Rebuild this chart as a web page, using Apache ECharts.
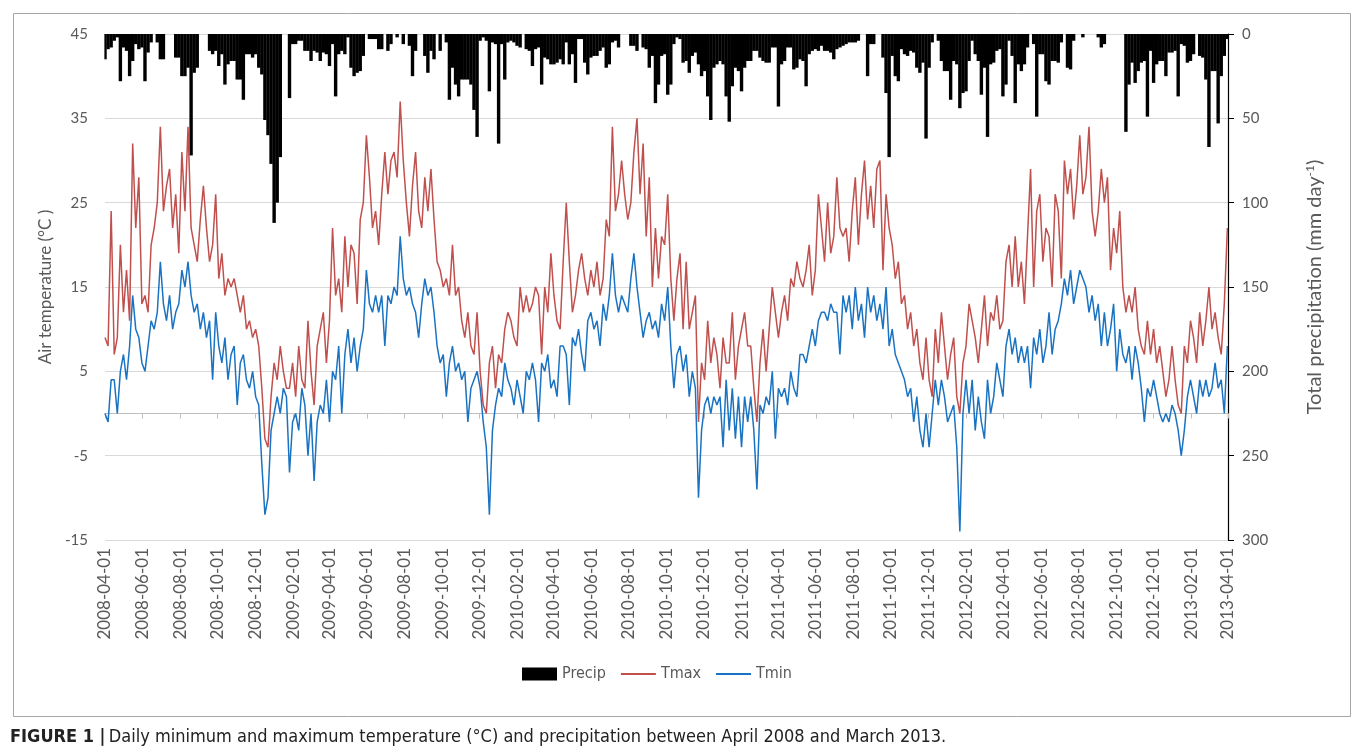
<!DOCTYPE html>
<html>
<head>
<meta charset="utf-8">
<script src="https://cdn.jsdelivr.net/npm/echarts@6/dist/echarts.min.js"></script>
<style>
  html, body { margin: 0; padding: 0; background: #fff; }
  #chart { width: 1358px; height: 750px; }
</style>
</head>
<body>
<div id="chart"></div>
<script>
// ---- data (one value every 5 days starting 2008-04-01) ----
const startDate = '2008-04-01';
const endDate = '2013-04-01';
const stepDays = 5;

const tmax = [
  9, 8, 24, 7, 9, 20, 12, 17, 11, 32,
  22, 28, 13, 14, 12, 20, 22, 25, 34, 24,
  27, 29, 22, 26, 19, 31, 24, 34, 22, 20,
  18, 23, 27, 22, 18, 20, 26, 16, 19, 14,
  16, 15, 16, 14, 12, 14, 10, 11, 9, 10,
  8, 3, -3, -4, 2, 6, 4, 8, 5, 3,
  3, 6, 2, 8, 4, 3, 11, 5, 1, 8,
  10, 12, 6, 11, 22, 14, 16, 12, 21, 15,
  20, 19, 13, 23, 25, 33, 28, 22, 24, 20,
  26, 31, 26, 30, 31, 28, 37, 30, 25, 21,
  27, 31, 24, 22, 28, 24, 29, 23, 18, 17,
  15, 16, 14, 20, 14, 15, 11, 9, 12, 8,
  7, 12, 5, 1, 0, 6, 8, 3, 7, 6,
  10, 12, 11, 9, 8, 15, 12, 14, 12, 13,
  15, 14, 7, 15, 12, 19, 14, 11, 10, 18,
  25, 18, 12, 14, 17, 19, 16, 14, 17, 15,
  18, 14, 16, 23, 21, 34, 24, 26, 30, 26,
  23, 25, 31, 35, 26, 32, 21, 28, 15, 22, 16,
  21, 20, 26, 16, 11, 16, 19, 10, 18, 10,
  12, 14, -1, 6, 4, 11, 6, 9, 7, 3,
  9, 6, 6, 12, 4, 8, 10, 12, 8, 8,
  3, -1, 6, 10, 5, 10, 15, 12, 9, 12,
  14, 11, 16, 15, 18, 16, 15, 17, 20, 14,
  17, 26, 22, 18, 25, 19, 21, 28, 22, 21,
  22, 18, 24, 28, 20, 26, 30, 23, 27, 22,
  29, 30, 17, 26, 22, 20, 16, 18, 13, 14,
  10, 12, 8, 10, 6, 4, 9, 4, 2, 10,
  6, 12, 8, 4, 7, 9, 2, 0, 6, 8,
  13, 11, 9, 6, 10, 14, 8, 12, 11, 14,
  10, 11, 18, 20, 15, 21, 15, 18, 13, 21,
  29, 15, 24, 26, 18, 22, 21, 15, 26, 24,
  16, 30, 26, 29, 23, 27, 33, 26, 28, 34,
  24, 21, 24, 29, 25, 28, 17, 22, 19, 24,
  15, 12, 14, 12, 15, 10, 8, 7, 11, 7,
  10, 6, 8, 5, 2, 4, 8, 4, 1, 0,
  8, 6, 11, 9, 6, 12, 8, 11, 15, 10,
  12, 9, 7, 13, 22
];

const tmin = [
  0, -1, 4, 4, 0, 5, 7, 4, 8, 14,
  10, 9, 6, 5, 8, 11, 10, 12, 18, 13,
  11, 14, 10, 12, 13, 17, 15, 18, 14, 12,
  13, 10, 12, 9, 11, 4, 12, 8, 6, 9,
  4, 7, 8, 1, 6, 7, 4, 3, 5, 2,
  1, -6, -12, -10, -2, 0, 2, 0, 3, 2,
  -7, -1, 0, -2, 3, 1, -5, 0, -8, -1,
  1, 0, 4, -1, 5, 4, 8, 0, 7, 10,
  6, 9, 5, 8, 10, 17, 13, 12, 14, 12,
  14, 8, 14, 13, 15, 14, 21, 16, 14, 15,
  13, 12, 9, 13, 16, 14, 15, 12, 8, 6,
  7, 2, 6, 8, 5, 6, 4, 5, -1, 3,
  4, 5, 3, -1, -4, -12, -2, 1, 3, 2,
  6, 4, 3, 1, 4, 2, 0, 5, 4, 6,
  4, -1, 6, 5, 7, 3, 4, 2, 8, 8,
  7, 1, 9, 8, 10, 7, 5, 11, 12, 10,
  11, 8, 13, 11, 14, 19, 14, 12, 14, 13,
  12, 16, 19, 15, 12, 9, 11, 12, 10, 11, 9,
  13, 11, 15, 8, 3, 7, 8, 5, 7, 2,
  5, 3, -10, -2, 1, 2, 0, 2, 1, 2,
  -4, 4, -2, 3, -3, 2, -4, 2, -1, 2,
  -2, -9, 1, 0, 2, 1, 5, -3, 3, 2,
  3, 1, 5, 3, 2, 7, 7, 6, 8, 10,
  8, 11, 12, 12, 11, 13, 12, 12, 7, 14,
  12, 14, 10, 15, 11, 13, 9, 15, 12, 14,
  11, 13, 10, 15, 8, 10, 7, 6, 5, 4,
  2, 3, -1, 2, -2, -4, 0, -4, 0, 4,
  1, 4, 2, -1, 0, 1, -4, -14, 0, 4,
  0, 4, -2, 2, -1, -3, 4, 0, 2, 6,
  4, 2, 8, 10, 7, 9, 6, 8, 6, 8,
  3, 9, 7, 10, 6, 8, 12, 7, 10, 11,
  13, 16, 14, 17, 13, 15, 17, 16, 15, 12,
  14, 11, 13, 8, 12, 8, 10, 13, 5, 10,
  7, 6, 8, 4, 8, 6, 3, -1, 3, 2,
  4, 2, 0, -1, 0, -1, 1, 0, -2, -5,
  -2, 2, 4, 2, 0, 4, 2, 4, 2, 3,
  6, 3, 4, 0, 8
];

const precip = [
  15, 9, 8, 4, 2, 28, 8, 10, 25, 16,
  6, 9, 8, 28, 11, 5, 0, 5, 15, 15,
  0, 0, 0, 14, 14, 25, 25, 20, 72, 23,
  20, 0, 0, 0, 10, 12, 10, 19, 12, 30,
  18, 16, 16, 27, 27, 39, 12, 12, 14, 12,
  20, 24, 51, 60, 77, 112, 100, 73, 0, 0,
  38, 6, 6, 4, 4, 10, 10, 16, 10, 11,
  16, 11, 12, 19, 6, 37, 12, 10, 12, 2,
  20, 25, 23, 22, 13, 0, 3, 3, 3, 9,
  9, 0, 10, 6, 0, 2, 0, 6, 0, 7,
  25, 10, 0, 0, 13, 23, 10, 15, 0, 10,
  0, 5, 39, 20, 30, 37, 27, 27, 27, 30,
  45, 61,
  4, 2, 4, 34, 5, 6, 65, 6, 27, 5,
  4, 5, 7, 8, 0, 9, 10, 19, 9, 8,
  30, 14, 15, 18, 18, 17, 15, 18, 5, 18,
  12, 29, 3, 3, 17, 24, 14, 13, 13, 10,
  8, 20, 18, 5, 4, 8, 0, 0, 0, 7,
  7, 10, 0, 8, 9, 20, 13, 41, 30, 13,
  12, 36, 30, 6, 2, 3, 17, 16, 23, 13,
  11, 18, 25, 22, 37, 51, 20, 18, 16, 18,
  37, 52, 31, 20, 22, 34, 20, 16, 16, 10,
  10, 14, 16, 17, 17, 8, 8, 43, 18, 16,
  8, 8, 21, 20, 15, 16, 31, 12, 10, 9,
  10, 7, 10, 10, 11, 15, 9, 8, 7, 6,
  5, 5, 5,
  4, 0, 0, 25, 6, 6, 0, 0, 14, 35,
  73, 13, 25, 28, 9, 12, 13, 10, 11, 20,
  23, 17, 62, 20, 5, 0, 4, 16, 22, 22,
  39, 16, 18, 44, 35, 34, 16, 4, 12, 16,
  36, 20, 61, 18, 17, 10, 9, 37, 30, 4,
  13, 41, 18, 22, 18, 8, 0, 6, 49, 12,
  12, 28, 30, 16, 16, 17, 5, 0, 20, 21,
  4, 0, 0, 2, 0, 0, 0, 0, 2, 8,
  6, 0, 0, 0, 0, 0, 0, 58, 30, 17,
  29, 22, 17, 16, 49, 10, 29, 18, 16, 16,
  25, 11, 11, 10, 37, 6, 7, 17, 16, 12,
  0, 13, 14, 27, 67, 22, 22, 53, 25, 13,
  3
];

const tempTicks = { min: -15, max: 45, interval: 10 };
const precipTicks = { min: 0, max: 300, interval: 50 };
const labelMonths = ['02', '04', '06', '08', '10', '12'];

// ---- daily category axis ----
const dates = [];
{
  const t0 = Date.parse(startDate + 'T00:00:00Z');
  const t1 = Date.parse(endDate + 'T00:00:00Z');
  for (let t = t0; t <= t1; t += 86400000) dates.push(new Date(t).toISOString().slice(0, 10));
}
const isLabelDay = (idx, val) => val.slice(8) === '01' && labelMonths.indexOf(val.slice(5, 7)) >= 0;
const toPairs = arr => arr.map((v, i) => [i * stepDays, v]);

const gray = '#595959';
const narrow = '"Liberation Sans Narrow", "DejaVu Sans Condensed", "Liberation Sans", sans-serif';
const hiddenSymbol = { color: 'rgba(0,0,0,0)', borderWidth: 0, opacity: 0 };

const chart = echarts.init(document.getElementById('chart'), null, { renderer: 'canvas' });
chart.setOption({
  animation: false,
  backgroundColor: '#ffffff',
  textStyle: { fontFamily: 'Lato, sans-serif' },
  grid: { left: 105, right: 130, top: 34, bottom: 210, containLabel: false },
  legend: {
    data: [
      { name: 'Precip', icon: 'rect' },
      { name: 'Tmax', itemStyle: hiddenSymbol },
      { name: 'Tmin', itemStyle: hiddenSymbol }
    ],
    left: 517, top: 661,
    itemWidth: 35, itemHeight: 13, itemGap: 14,
    textStyle: { fontSize: 16, color: gray, fontFamily: narrow }
  },
  xAxis: {
    type: 'category',
    data: dates,
    boundaryGap: false,
    axisLine: { lineStyle: { color: '#bfbfbf' } },
    axisTick: { show: true, interval: isLabelDay, length: 5, lineStyle: { color: '#bfbfbf' } },
    axisLabel: {
      interval: isLabelDay, rotate: 90, color: gray, fontSize: 17, margin: 8,
      fontFamily: 'Lato, sans-serif'
    },
    splitLine: { show: false }
  },
  yAxis: [
    {
      type: 'value',
      min: tempTicks.min, max: tempTicks.max, interval: tempTicks.interval,
      name: 'Air temperature (°C )',
      nameLocation: 'middle', nameGap: 50, nameRotate: 90,
      nameTextStyle: { color: gray, fontSize: 17, fontFamily: 'Lato, sans-serif' },
      axisLine: { show: false },
      axisTick: { show: false },
      axisLabel: { color: gray, fontSize: 15, margin: 17 },
      splitLine: { lineStyle: { color: '#d9d9d9', width: 1 } }
    },
    {
      type: 'value',
      position: 'right',
      inverse: true,
      min: precipTicks.min, max: precipTicks.max, interval: precipTicks.interval,
      name: 'Total precipitation (mm day{sup|-1})',
      nameLocation: 'middle', nameGap: 76, nameRotate: 90,
      nameTextStyle: {
        color: gray, fontSize: 20, fontFamily: 'Lato, sans-serif',
        rich: { sup: { fontSize: 12, color: gray, verticalAlign: 'top', padding: [0, 0, 9, 0] } }
      },
      axisLine: { show: true, lineStyle: { color: '#000', width: 1.2 } },
      axisTick: { show: true, inside: false, length: 6, lineStyle: { color: '#000' } },
      axisLabel: { color: gray, fontSize: 15, margin: 14 },
      splitLine: { show: false }
    }
  ],
  series: [
    {
      name: 'Precip', type: 'bar', yAxisIndex: 1,
      data: toPairs(precip), barWidth: 3.4, barGap: '-100%',
      itemStyle: { color: '#000' }
    },
    {
      name: 'Tmax', type: 'line', yAxisIndex: 0,
      data: toPairs(tmax), symbol: 'none',
      lineStyle: { color: '#c0504d', width: 1.5 }, itemStyle: { color: '#c0504d' }
    },
    {
      name: 'Tmin', type: 'line', yAxisIndex: 0,
      data: toPairs(tmin), symbol: 'none',
      lineStyle: { color: '#1a73c2', width: 1.5 }, itemStyle: { color: '#1a73c2' }
    }
  ],
  graphic: [
    {
      type: 'rect', left: 11, top: 11, silent: true,
      shape: { width: 1337, height: 703 },
      style: { fill: 'none', stroke: '#a6a6a6', lineWidth: 1 }
    },
    {
      type: 'text', left: 10, top: 728, silent: true,
      style: {
        text: '{b|FIGURE 1 |} {n|Daily minimum and maximum temperature (°C) and precipitation between April 2008 and March 2013.}',
        rich: {
          b: { fontFamily: narrow, fontSize: 18, fontWeight: 'bold', fill: '#222' },
          n: { fontFamily: narrow, fontSize: 18, fill: '#222' }
        }
      }
    }
  ]
});
</script>
</body>
</html>
